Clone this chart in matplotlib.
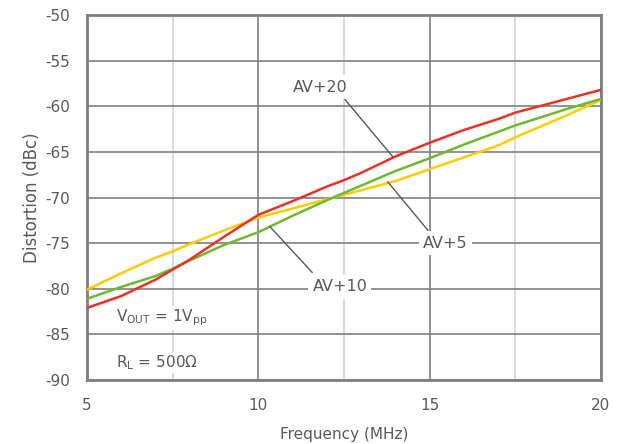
import matplotlib
matplotlib.use("Agg")
import matplotlib.pyplot as plt

plt.rcParams["axes.unicode_minus"] = False

freq = [5, 6, 7, 7.5, 8, 9, 10, 11, 12, 12.5, 13, 14, 15, 16, 17, 17.5, 18, 19, 20]
av20 = [-82.1, -80.8, -79.0, -77.9, -76.8, -74.3, -71.9, -70.4, -68.8, -68.1, -67.3, -65.5,
        -64.0, -62.6, -61.4, -60.7, -60.2, -59.2, -58.2]
av10 = [-81.1, -79.8, -78.6, -77.8, -76.9, -75.2, -73.8, -72.0, -70.3, -69.5, -68.7, -67.1,
        -65.7, -64.2, -62.8, -62.1, -61.5, -60.3, -59.2]
av5 = [-80.1, -78.3, -76.6, -75.9, -75.1, -73.6, -72.2, -71.2, -70.2, -69.7, -69.2, -68.2,
       -66.9, -65.6, -64.3, -63.4, -62.6, -61.0, -59.3]

xticks = [5, 10, 15, 20]
xminor = [7.5, 12.5, 17.5]
yticks = [-90, -85, -80, -75, -70, -65, -60, -55, -50]

txt = "#595959"
fig = plt.figure(figsize=(6.26, 4.44), dpi=100)
ax = fig.add_axes([87/626, 1-380/444, 514/626, 365/444])
ax.set_xlim(5, 20)
ax.set_ylim(-90, -50)
ax.set_xticks(xticks)
ax.set_xticks(xminor, minor=True)
ax.set_yticks(yticks)
ax.grid(True, which="major", color="#7f7f7f", lw=1.2, zorder=0)
ax.grid(True, which="minor", axis="x", color="#d4d4d4", lw=1.2, zorder=0)
ax.tick_params(which="both", length=0)
ax.tick_params(axis="x", pad=13, labelsize=11, labelcolor=txt)
ax.tick_params(axis="y", pad=12, labelsize=11, labelcolor=txt)
for s in ax.spines.values():
    s.set_color("#7f7f7f")
    s.set_linewidth(2)
ax.set_axisbelow(True)

ax.plot(freq, av5, color="#ffcc00", lw=1.8, zorder=3)
ax.plot(freq, av10, color="#6bbb2c", lw=1.8, zorder=3)
ax.plot(freq, av20, color="#ec3027", lw=1.8, zorder=3)

ax.set_xlabel("Frequency (MHz)", fontsize=11, color=txt, labelpad=10)
ax.set_ylabel("Distortion (dBc)", fontsize=12, color=txt, labelpad=3)

lc = "#595959"
ax.plot([12.47, 13.93], [-59.0, -65.56], color=lc, lw=1.0, zorder=4)
ax.plot([14.95, 13.78], [-73.6, -68.3], color=lc, lw=1.0, zorder=4)
ax.plot([11.57, 10.34], [-78.2, -73.2], color=lc, lw=1.0, zorder=4)

bb = dict(facecolor="white", edgecolor="none", pad=3)
ax.text(11.80, -57.9, "AV+20", fontsize=11.5, color=txt, ha="center", va="center", bbox=bb, zorder=5)
ax.text(15.45, -75.0, "AV+5", fontsize=11.5, color=txt, ha="center", va="center", bbox=bb, zorder=5)
ax.text(12.38, -79.8, "AV+10", fontsize=11.5, color=txt, ha="center", va="center", bbox=bb, zorder=5)
ax.text(5.85, -83.2, r"V$_{\mathregular{OUT}}$ = 1V$_{\mathregular{pp}}$", fontsize=11, color=txt,
        ha="left", va="center", bbox=dict(facecolor="white", edgecolor="none", pad=1), zorder=5)
ax.text(5.85, -88.1, r"R$_{\mathregular{L}}$ = 500Ω", fontsize=11, color=txt,
        ha="left", va="center", bbox=dict(facecolor="white", edgecolor="none", pad=1), zorder=5)

fig.savefig("out.png", dpi=100)
